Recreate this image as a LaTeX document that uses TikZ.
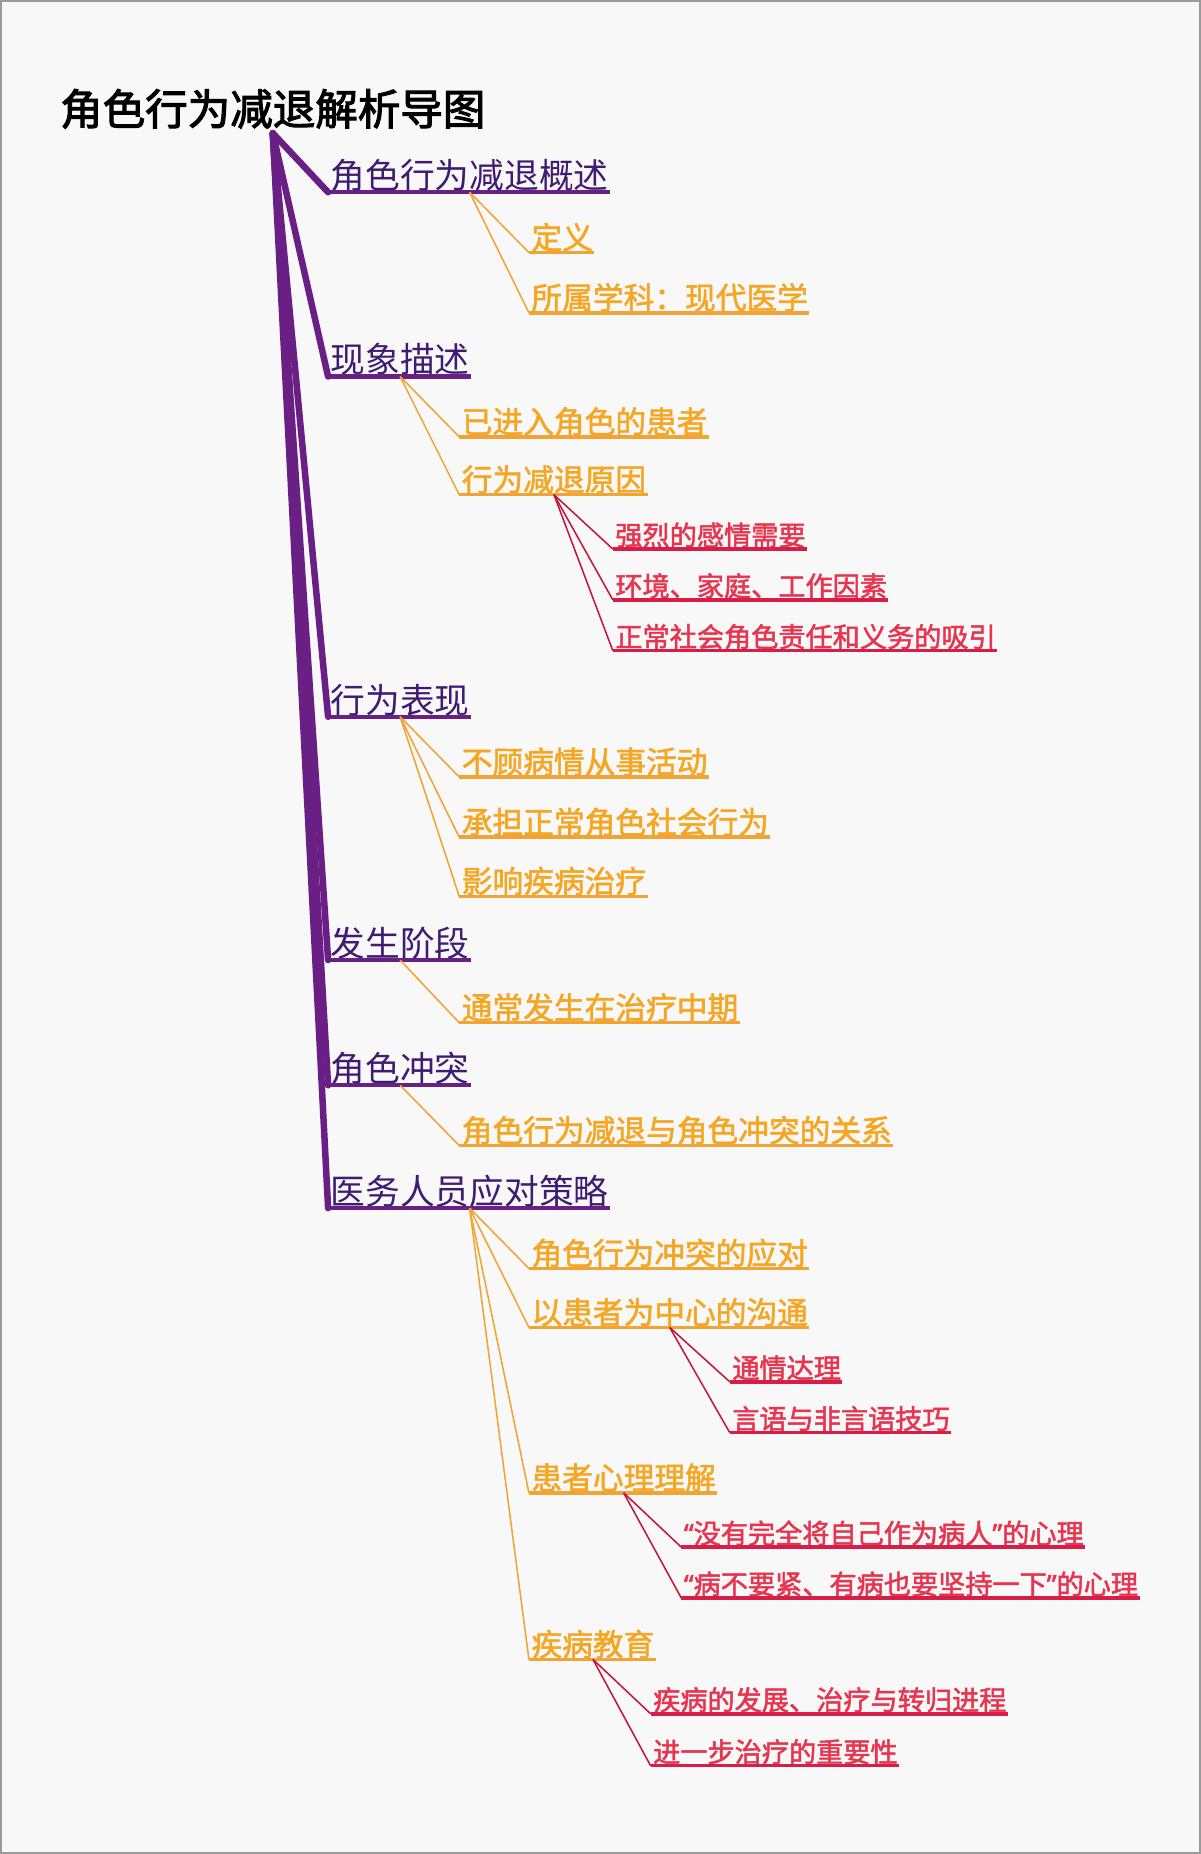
\documentclass[tikz,border=0pt]{standalone}
\usepackage{fontspec}
\newfontfamily\cjk{Noto Sans CJK SC}
\newfontfamily\cjkm[FakeBold=1.8]{Noto Sans CJK SC}
\newfontfamily\cjkb[FakeBold=2.5]{Noto Sans CJK SC}
\newfontfamily\latq[FakeBold=1.8]{Noto Sans}
\newcommand\myLq{{\latq “}}
\newcommand\myRq{{\latq ”}}
\definecolor{bgc}{HTML}{F8F8F8}
\definecolor{frame}{HTML}{9A9A9A}
\definecolor{txtP}{HTML}{3E1C72}
\definecolor{lineP}{HTML}{6A1F85}
\definecolor{txtO}{HTML}{F5A623}
\definecolor{lineO}{HTML}{F2A336}
\definecolor{txtR}{HTML}{E8344E}
\definecolor{ulR}{HTML}{D81E48}
\definecolor{lineR}{HTML}{C2173F}
\newcommand\mkul[2]{%
  \draw[#2] ([xshift=-2pt,yshift=-3pt]#1.base west) -- ([xshift=1pt,yshift=-3pt]#1.base east);
  \coordinate (#1s) at ([xshift=-2pt,yshift=-3pt]#1.base west);
  \coordinate (#1m) at ([yshift=-3pt]#1.base);}
\begin{document}
\begin{tikzpicture}[x=1pt,y=-1pt,
  titlestyle/.style={font=\cjkb\fontsize{36}{36}\selectfont, text=black, inner sep=0, anchor=base west},
  lone/.style={font=\cjk\fontsize{29.4}{29.4}\selectfont, text=txtP, inner sep=0, anchor=base west},
  ltwo/.style={font=\cjkm\fontsize{26}{26}\selectfont, text=txtO, inner sep=0, anchor=base west},
  lthree/.style={font=\cjkm\fontsize{23}{23}\selectfont, text=txtR, inner sep=0, anchor=base west},
  ulP/.style={draw=lineP, line width=3.5pt},
  ulO/.style={draw=lineO, line width=3pt},
  ulR/.style={draw=ulR, line width=3pt},
  branchP/.style={draw=lineP, line width=5.5pt, line cap=round},
  conO/.style={draw=lineO, line width=1.3pt},
  conR/.style={draw=lineR, line width=1.3pt},
]
\fill[bgc] (0,0) rectangle (1015,1568);
\draw[frame, line width=1.5pt] (0,0) rectangle (1015,1568);
\useasboundingbox (0,0) rectangle (1015,1568);

% title
\node[titlestyle] (title) at (50,105) {角色行为减退解析导图};
\coordinate (root) at ([yshift=-7pt]title.base);

% level 1
\node[lone] (a) at (279,159)  {角色行为减退概述};
\node[lone] (b) at (279,315)  {现象描述};
\node[lone] (c) at (279,603)  {行为表现};
\node[lone] (d) at (279,809)  {发生阶段};
\node[lone] (e) at (279,915)  {角色冲突};
\node[lone] (f) at (279,1019) {医务人员应对策略};

% level 2
\node[ltwo] (a1) at (449,210)  {定义};
\node[ltwo] (a2) at (449,261)  {所属学科：现代医学};
\node[ltwo] (b1) at (390,366)  {已进入角色的患者};
\node[ltwo] (b2) at (390,415)  {行为减退原因};
\node[ltwo] (c1) at (390,654)  {不顾病情从事活动};
\node[ltwo] (c2) at (390,705)  {承担正常角色社会行为};
\node[ltwo] (c3) at (390,755)  {影响疾病治疗};
\node[ltwo] (d1) at (390,862)  {通常发生在治疗中期};
\node[ltwo] (e1) at (390,966)  {角色行为减退与角色冲突的关系};
\node[ltwo] (f1) at (449,1070) {角色行为冲突的应对};
\node[ltwo] (f2) at (449,1120) {以患者为中心的沟通};
\node[ltwo] (f3) at (449,1260) {患者心理理解};
\node[ltwo] (f4) at (449,1401) {疾病教育};

% level 3
\node[lthree] (b21) at (520,461)  {强烈的感情需要};
\node[lthree] (b22) at (520,504)  {环境、家庭、工作因素};
\node[lthree] (b23) at (520,547)  {正常社会角色责任和义务的吸引};
\node[lthree] (f21) at (619,1166) {通情达理};
\node[lthree] (f22) at (619,1209) {言语与非言语技巧};
\node[lthree] (f31) at (578,1306) {\myLq 没有完全将自己作为病人\myRq 的心理};
\node[lthree] (f32) at (578,1349) {\myLq 病不要紧、有病也要坚持一下\myRq 的心理};
\node[lthree] (f41) at (552,1447) {疾病的发展、治疗与转归进程};
\node[lthree] (f42) at (552,1491) {进一步治疗的重要性};

% underlines
\foreach \n in {a,b,c,d,e,f} {\mkul{\n}{ulP}}
\foreach \n in {a1,a2,b1,b2,c1,c2,c3,d1,e1,f1,f2,f3,f4} {\mkul{\n}{ulO}}
\foreach \n in {b21,b22,b23,f21,f22,f31,f32,f41,f42} {\mkul{\n}{ulR}}

% purple branches
\foreach \n in {f,e,d,c,b,a} {\draw[branchP] (root) -- (\n s);}

% orange connectors
\foreach \p/\k in {a/a1,a/a2,b/b1,b/b2,c/c1,c/c2,c/c3,d/d1,e/e1,f/f1,f/f2,f/f3,f/f4}
  {\draw[conO] (\p m) -- (\k s);}

% red connectors
\foreach \p/\k in {b2/b21,b2/b22,b2/b23,f2/f21,f2/f22,f3/f31,f3/f32,f4/f41,f4/f42}
  {\draw[conR] (\p m) -- (\k s);}
\end{tikzpicture}
\end{document}
